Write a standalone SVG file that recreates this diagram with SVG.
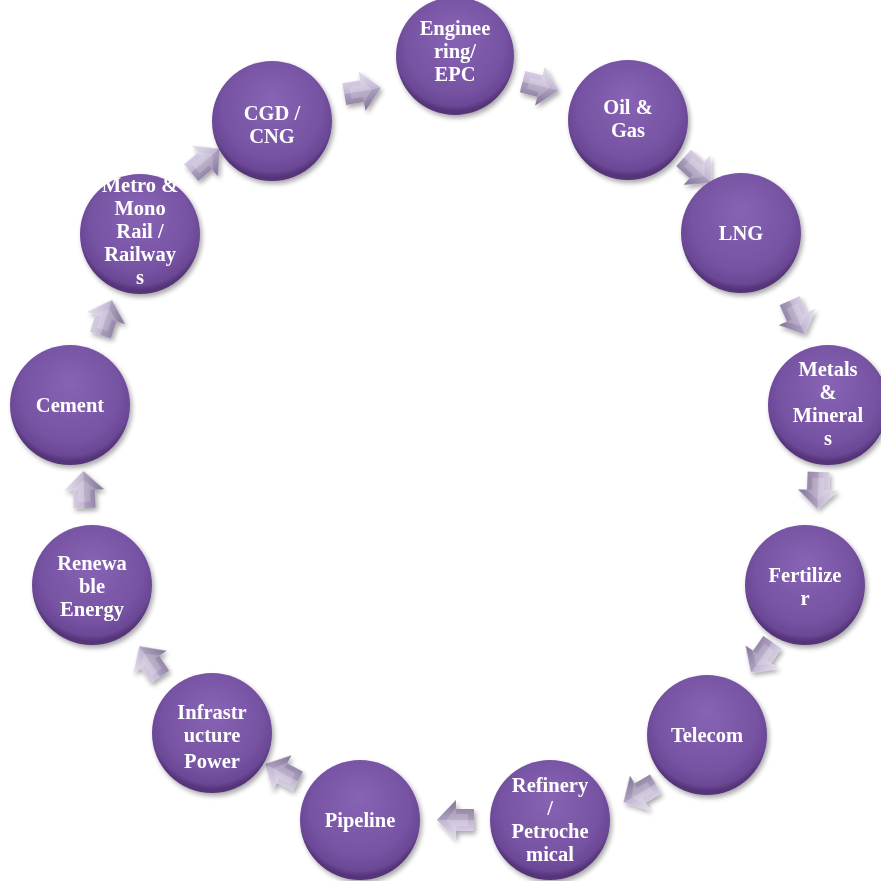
<svg xmlns="http://www.w3.org/2000/svg" width="881" height="881" viewBox="0 0 881 881">
<defs>
<radialGradient id="gCirc" cx="50%" cy="42%" r="55%" fx="50%" fy="30%">
<stop offset="0" stop-color="#8864b4"/>
<stop offset="0.75" stop-color="#7753a3"/>
<stop offset="0.93" stop-color="#6b4896"/>
<stop offset="1" stop-color="#553478"/>
</radialGradient>
<linearGradient id="gArr" x1="0" y1="0" x2="0" y2="1">
<stop offset="0" stop-color="#e6e0ee"/>
<stop offset="0.5" stop-color="#c2b6d2"/>
<stop offset="1" stop-color="#8e7ea4"/>
</linearGradient>
<filter id="sh" x="-20%" y="-20%" width="150%" height="150%">
<feGaussianBlur in="SourceAlpha" stdDeviation="2.5"/>
<feOffset dx="1.5" dy="2.5" result="b"/>
<feComponentTransfer><feFuncA type="linear" slope="0.35"/></feComponentTransfer>
<feMerge><feMergeNode/><feMergeNode in="SourceGraphic"/></feMerge>
</filter>
<g id="arrow">
<polygon points="-18,-11 0,-11 0,-20 19,0 0,20 0,11 -18,11" fill="url(#gArr)"/>
<polygon points="-18,0 19,0 0,20 0,11 -18,11" fill="#5a4a70" opacity="0.2"/>
<polygon points="-12,-6 0,-6 0,-12 10,0 0,12 0,6 -12,6" fill="#ffffff" opacity="0.18"/>
</g>
</defs>
<style>
.node circle{fill:url(#gCirc);filter:url(#sh)}
.node text{font-family:"Liberation Serif","Times New Roman",serif;font-weight:bold;font-size:20.5px;fill:#ffffff;text-anchor:middle}
</style>
<rect width="881" height="881" fill="#ffffff"/>
<g id="connectors" filter="url(#sh)">
<use href="#arrow" transform="translate(362,91) rotate(-10)"/>
<use href="#arrow" transform="translate(540,86) rotate(14)"/>
<use href="#arrow" transform="translate(697,170) rotate(42)"/>
<use href="#arrow" transform="translate(797,317) rotate(66)"/>
<use href="#arrow" transform="translate(818,490) rotate(92)"/>
<use href="#arrow" transform="translate(762,657) rotate(125)"/>
<use href="#arrow" transform="translate(640,793) rotate(150)"/>
<use href="#arrow" transform="translate(456,820) rotate(180)"/>
<use href="#arrow" transform="translate(282,773) rotate(208)"/>
<use href="#arrow" transform="translate(150,662) rotate(236)"/>
<use href="#arrow" transform="translate(84,490) rotate(268)"/>
<use href="#arrow" transform="translate(106,318) rotate(288)"/>
<use href="#arrow" transform="translate(205,161) rotate(320)"/>
</g>
<g id="n-eng" class="node"><circle cx="455" cy="56" r="59"/>
<text x="455" y="35">Enginee</text><text x="455" y="58">ring/</text><text x="455" y="81">EPC</text></g>
<g id="n-oil" class="node"><circle cx="628" cy="120" r="60"/>
<text x="628" y="114">Oil &amp;</text><text x="628" y="137">Gas</text></g>
<g id="n-lng" class="node"><circle cx="741" cy="233" r="60"/>
<text x="741" y="240">LNG</text></g>
<g id="n-metals" class="node"><circle cx="828" cy="405" r="60"/>
<text x="828" y="376">Metals</text><text x="828" y="399">&amp;</text><text x="828" y="422">Mineral</text><text x="828" y="445">s</text></g>
<g id="n-fert" class="node"><circle cx="805" cy="585" r="60"/>
<text x="805" y="582">Fertilize</text><text x="805" y="605">r</text></g>
<g id="n-telecom" class="node"><circle cx="707" cy="735" r="60"/>
<text x="707" y="742">Telecom</text></g>
<g id="n-refinery" class="node"><circle cx="550" cy="820" r="60"/>
<text x="550" y="792">Refinery</text><text x="550" y="815">/</text><text x="550" y="838">Petroche</text><text x="550" y="861">mical</text></g>
<g id="n-pipeline" class="node"><circle cx="360" cy="820" r="60"/>
<text x="360" y="827">Pipeline</text></g>
<g id="n-infra" class="node"><circle cx="212" cy="733" r="60"/>
<text x="212" y="719">Infrastr</text><text x="212" y="742">ucture</text><text x="212" y="768">Power</text></g>
<g id="n-renew" class="node"><circle cx="92" cy="585" r="60"/>
<text x="92" y="570">Renewa</text><text x="92" y="593">ble</text><text x="92" y="616">Energy</text></g>
<g id="n-cement" class="node"><circle cx="70" cy="405" r="60"/>
<text x="70" y="412">Cement</text></g>
<g id="n-metro" class="node"><circle cx="140" cy="234" r="60"/>
<text x="140" y="192">Metro &amp;</text><text x="140" y="215">Mono</text><text x="140" y="238">Rail /</text><text x="140" y="261">Railway</text><text x="140" y="284">s</text></g>
<g id="n-cgd" class="node"><circle cx="272" cy="121" r="60"/>
<text x="272" y="120">CGD /</text><text x="272" y="143">CNG</text></g>
</svg>
